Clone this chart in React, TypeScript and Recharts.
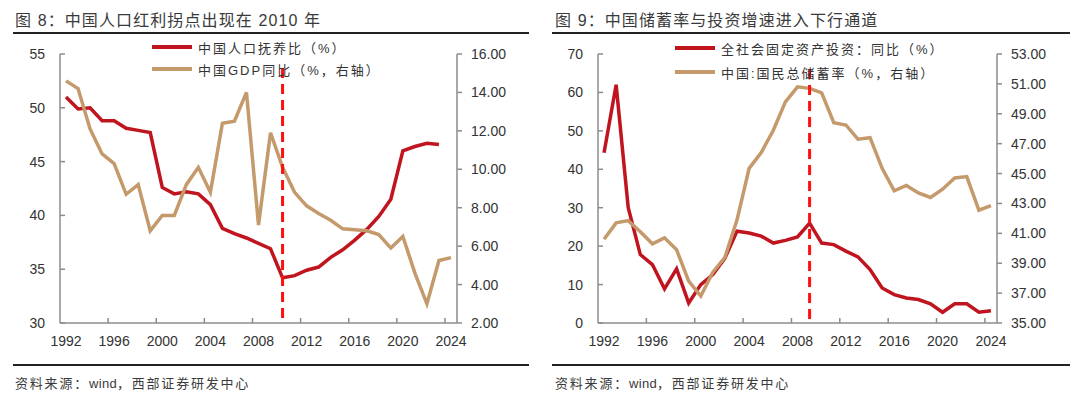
import React from "react";
import { ComposedChart, Line, XAxis, YAxis, ReferenceLine, Legend } from "recharts";

// shared x axis
const years = [
  1992, 1993, 1994, 1995, 1996, 1997, 1998, 1999, 2000, 2001, 2002,
  2003, 2004, 2005, 2006, 2007, 2008, 2009, 2010, 2011, 2012, 2013,
  2014, 2015, 2016, 2017, 2018, 2019, 2020, 2021, 2022, 2023, 2024,
];

// 图8
const dependencyRatio = [
  51.0, 49.9, 50.0, 48.8, 48.8, 48.1, 47.9, 47.7, 42.6, 42.0, 42.2,
  42.0, 41.0, 38.8, 38.3, 37.9, 37.4, 36.9, 34.2, 34.4, 34.9, 35.2,
  36.1, 36.8, 37.7, 38.7, 39.9, 41.5, 46.0, 46.4, 46.7, 46.6, null,
];
const gdpGrowth = [
  14.6, 14.2, 12.1, 10.8, 10.3, 8.7, 9.2, 6.8, 7.6, 7.6, 9.2,
  10.1, 8.8, 12.4, 12.5, 14.0, 7.1, 11.9, 10.1, 8.8, 8.1, 7.7,
  7.35, 6.9, 6.85, 6.8, 6.6, 5.9, 6.5, 4.6, 3.0, 5.25, 5.4,
];
const leftTicks8 = [30, 35, 40, 45, 50, 55];
const rightTicks8 = [2, 4, 6, 8, 10, 12, 14, 16];

// 图9
const fixedInvestGrowth = [
  44.3, 62.0, 30.0, 17.8, 15.2, 8.9, 14.1, 5.2, 10.0, 12.6, 16.9,
  23.9, 23.4, 22.6, 20.8, 21.5, 22.4, 26.0, 20.8, 20.4, 18.7, 17.2,
  13.9, 9.1, 7.4, 6.5, 6.1, 5.0, 2.8, 5.0, 5.0, 2.8, 3.2,
];
const savingsRate = [
  40.6, 41.7, 41.85, 41.1, 40.3, 40.7, 39.9, 37.8, 36.8, 38.4, 39.4,
  41.9, 45.35, 46.4, 47.9, 49.8, 50.8, 50.7, 50.4, 48.4, 48.25, 47.3,
  47.4, 45.35, 43.85, 44.2, 43.7, 43.4, 43.95, 44.7, 44.8, 42.55, 42.85,
];
const leftTicks9 = [0, 10, 20, 30, 40, 50, 60, 70];
const rightTicks9 = [35, 37, 39, 41, 43, 45, 47, 49, 51, 53];

const RED = "#C0141F";
const TAN = "#C49A6C";
const DASH = "#FF1010";
const AXIS = "#8c8c8c";
const TEXT = "#333333";
const NUM_FONT = "'Liberation Sans', Arial, sans-serif";
const CJK_FONT = "'Liberation Sans', 'Noto Sans CJK SC', sans-serif";
const SERIES_ORDER = ["red", "tan"];

const W = 540;
const H = 396;
const PLOT_TOP = 54;
const PLOT_BOTTOM = 323;
const PLOT_RIGHT = 457;

const LeftTick = (props: any) => {
  const { x, y, payload } = props;
  return (
    <g>
      <line x1={x + 15} x2={x + 20} y1={y} y2={y} stroke={AXIS} strokeWidth={1.5} />
      <text x={x} y={y} dy={5} textAnchor="end" fill={TEXT} fontSize={14} fontFamily={NUM_FONT}>
        {payload.value}
      </text>
    </g>
  );
};

const makeRightTick = (decimals: number) => (props: any) => {
  const { x, y, payload } = props;
  return (
    <text x={x} y={y} dy={5} textAnchor="start" fill={TEXT} fontSize={14} fontFamily={NUM_FONT}>
      {Number(payload.value).toFixed(decimals)}
    </text>
  );
};

const makeXTick = (band: number) => (props: any) => {
  const { x, y, payload, index } = props;
  return (
    <g>
      {index > 0 && (
        <line x1={x - band / 2} x2={x - band / 2} y1={y - 10} y2={y - 15} stroke={AXIS} strokeWidth={1.5} />
      )}
      <text x={x} y={y} dy={13} textAnchor="middle" fill={TEXT} fontSize={14} fontFamily={NUM_FONT}>
        {payload.value}
      </text>
    </g>
  );
};

const LegendBox = (props: any) => {
  const { payload = [], rowGap } = props;
  const items = [...payload].sort(
    (a: any, b: any) => SERIES_ORDER.indexOf(a.dataKey) - SERIES_ORDER.indexOf(b.dataKey)
  );
  return (
    <div>
      {items.map((p: any) => (
        <div key={p.value} style={{ display: "flex", alignItems: "center", height: rowGap, whiteSpace: "nowrap" }}>
          <span style={{ display: "inline-block", width: 40, height: 3.5, background: p.color, marginRight: 6 }} />
          <span style={{ fontFamily: CJK_FONT, fontSize: 13, letterSpacing: 2, color: TEXT }}>{p.value}</span>
        </div>
      ))}
    </div>
  );
};

interface PanelProps {
  left: number;
  plotLeft: number;
  title: string;
  redName: string;
  tanName: string;
  red: (number | null)[];
  tan: (number | null)[];
  leftTicks: number[];
  rightTicks: number[];
  markerYear: number;
  markerTop: number;
  legendTop: number;
  legendLeft: number;
  rowGap: number;
  ruleLeft: number;
  ruleRight: number;
}

const Panel = (p: PanelProps) => {
  const data = years.map((year, i) => ({ year, red: p.red[i], tan: p.tan[i] }));
  const band = (PLOT_RIGHT - p.plotLeft) / years.length;
  const leftW = 50;
  const rightW = 70;
  return (
    <div style={{ position: "absolute", left: p.left, top: 0, width: W, height: H }}>
      <div
        style={{
          position: "absolute",
          left: 15,
          top: 7,
          fontFamily: CJK_FONT,
          fontSize: 16,
          letterSpacing: 1.1,
          color: "#3a3a3a",
          whiteSpace: "nowrap",
        }}
      >
        {p.title}
      </div>
      <div style={{ position: "absolute", left: p.ruleLeft, top: 32, width: p.ruleRight - p.ruleLeft, height: 2, background: "#222" }} />
      <div style={{ position: "absolute", left: p.ruleLeft, top: 364, width: p.ruleRight - p.ruleLeft, height: 2, background: "#222" }} />
      <div
        style={{
          position: "absolute",
          left: 15,
          top: 373,
          fontFamily: CJK_FONT,
          fontSize: 13,
          letterSpacing: 1.8,
          color: "#3a3a3a",
          whiteSpace: "nowrap",
        }}
      >
        资料来源：<span style={{ letterSpacing: 0.3 }}>wind</span>，西部证券研发中心
      </div>
      <ComposedChart
        width={W}
        height={H}
        data={data}
        margin={{ top: PLOT_TOP, bottom: H - PLOT_BOTTOM - 30, left: p.plotLeft - leftW, right: W - PLOT_RIGHT - rightW }}
      >
        <XAxis
          dataKey="year"
          type="category"
          scale="band"
          interval={3}
          height={30}
          tickLine={false}
          tickSize={0}
          tickMargin={10}
          axisLine={{ stroke: AXIS, strokeWidth: 1.5 }}
          tick={makeXTick(band)}
        />
        <YAxis
          yAxisId="left"
          orientation="left"
          width={leftW}
          type="number"
          domain={[p.leftTicks[0], p.leftTicks[p.leftTicks.length - 1]]}
          ticks={p.leftTicks}
          interval={0}
          tickLine={false}
          tickSize={0}
          tickMargin={15}
          axisLine={{ stroke: AXIS, strokeWidth: 1.5 }}
          tick={<LeftTick />}
        />
        <YAxis
          yAxisId="right"
          orientation="right"
          width={rightW}
          type="number"
          domain={[p.rightTicks[0], p.rightTicks[p.rightTicks.length - 1]]}
          ticks={p.rightTicks}
          interval={0}
          tickSize={5}
          tickMargin={9}
          tickLine={{ stroke: AXIS, strokeWidth: 1.5 }}
          axisLine={{ stroke: AXIS, strokeWidth: 1.5 }}
          tick={makeRightTick(2)}
        />
        <Legend
          layout="vertical"
          align="center"
          verticalAlign="middle"
          wrapperStyle={{ left: p.legendLeft, top: p.legendTop, width: 320 }}
          content={<LegendBox rowGap={p.rowGap} />}
        />
        <Line
          yAxisId="left"
          dataKey="red"
          name={p.redName}
          stroke={RED}
          strokeWidth={3.5}
          dot={false}
          isAnimationActive={false}
        />
        <Line
          yAxisId="right"
          dataKey="tan"
          name={p.tanName}
          stroke={TAN}
          strokeWidth={3.5}
          dot={false}
          isAnimationActive={false}
        />
        <ReferenceLine
          yAxisId="left"
          segment={[
            { x: p.markerYear, y: p.markerTop },
            { x: p.markerYear, y: p.leftTicks[0] },
          ]}
          stroke={DASH}
          strokeWidth={3}
          strokeDasharray="10 6"
        />
      </ComposedChart>
    </div>
  );
};

export default function App() {
  return (
    <div style={{ position: "absolute", left: 0, top: 0, width: 1080, height: 396, background: "#fff", overflow: "hidden" }}>
      <Panel
        left={0}
        plotLeft={60}
        title="图 8：中国人口红利拐点出现在 2010 年"
        redName="中国人口抚养比（%）"
        tanName="中国GDP同比（%，右轴）"
        red={dependencyRatio}
        tan={gdpGrowth}
        leftTicks={leftTicks8}
        rightTicks={rightTicks8}
        markerYear={2010}
        markerTop={53.7}
        legendLeft={152}
        legendTop={36}
        rowGap={22}
        ruleLeft={13}
        ruleRight={529}
      />
      <Panel
        left={540}
        plotLeft={58}
        title="图 9：中国储蓄率与投资增速进入下行通道"
        redName="全社会固定资产投资：同比（%）"
        tanName="中国:国民总储蓄率（%，右轴）"
        red={fixedInvestGrowth}
        tan={savingsRate}
        leftTicks={leftTicks9}
        rightTicks={rightTicks9}
        markerYear={2009}
        markerTop={66.1}
        legendLeft={135}
        legendTop={36}
        rowGap={24}
        ruleLeft={12}
        ruleRight={530}
      />
    </div>
  );
}
